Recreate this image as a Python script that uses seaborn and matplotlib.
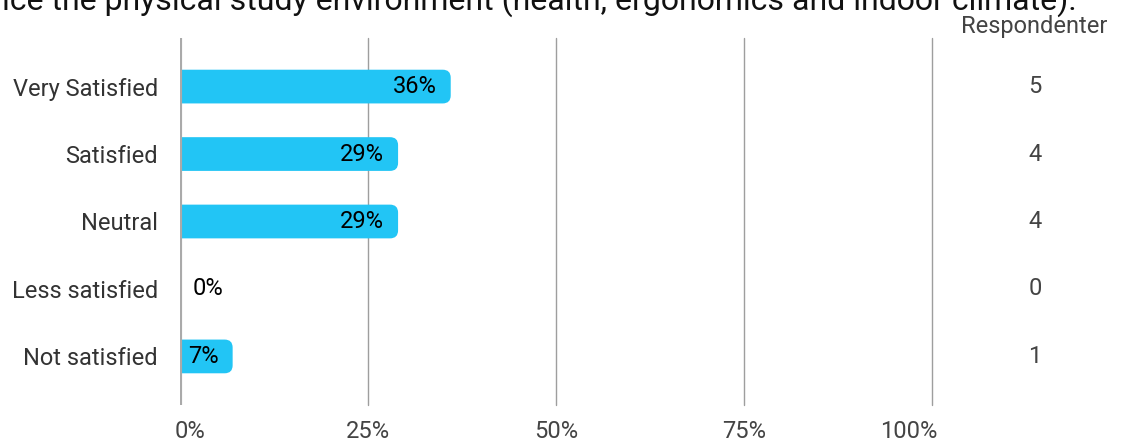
import numpy as np
import pandas as pd
import matplotlib
matplotlib.use("Agg")
import matplotlib.pyplot as plt
import matplotlib.transforms as mtrans
from matplotlib.patches import FancyBboxPatch
import seaborn as sns

categories = ["Very Satisfied", "Satisfied", "Neutral", "Less satisfied", "Not satisfied"]
percent = [36, 29, 29, 0, 7]
respondents = [5, 4, 4, 0, 1]
xticks = [0, 25, 50, 75, 100]
xticklabels = ["0%", "25%", "50%", "75%", "100%"]
title = "ice the physical study environment (health, ergonomics and indoor climate)."

df = pd.DataFrame({"category": categories, "percent": percent, "n": respondents})

sns.set_style("white")
plt.rcParams["font.family"] = ["Roboto", "DejaVu Sans"]

bar_color = "#22c5f5"
fig = plt.figure(figsize=(11.26, 4.42), dpi=100)
ax = fig.add_axes([180 / 1126, 1 - 405 / 442, 752 / 1126, 367 / 442])

sns.barplot(data=df, y="category", x="percent", orient="h", color=bar_color,
            width=0.5, saturation=1, ax=ax)

ax.set_xlim(0, 100)
ax.set_ylim(4.72, -0.72)

# rounded bar ends: rebuild each seaborn bar as a rounded box
px_x = 752 / 100.0
px_y = 367 / 5.44
r_px = 8
for p in list(ax.patches):
    x0, y0, w, h = p.get_x(), p.get_y(), p.get_width(), p.get_height()
    p.set_visible(False)
    if w <= 0:
        continue
    ext = r_px / px_x + 0.5
    box = FancyBboxPatch((x0 - ext, y0), w + ext, h,
                         boxstyle=f"round,pad=0,rounding_size={r_px / px_x}",
                         mutation_aspect=px_x / px_y,
                         facecolor=bar_color, edgecolor="none", zorder=2)
    ax.add_patch(box)

# value labels
for i, (v, n) in enumerate(zip(percent, respondents)):
    lab = f"{v}%"
    if v * px_x > 45:
        ax.annotate(lab, (v, i), xytext=(-14, 0), textcoords="offset pixels",
                    ha="right", va="center", fontsize=17, color="#000000", zorder=3)
    else:
        ax.annotate(lab, (v, i), xytext=(13, 0), textcoords="offset pixels",
                    ha="left", va="center", fontsize=17, color="#000000", zorder=3)
    ax.text(1.137, i, str(n), transform=ax.get_yaxis_transform(),
            ha="center", va="center", fontsize=17, color="#444444")

ax.text(1.038, 1 + 5 / 367, "Respondenter", transform=ax.transAxes,
        ha="left", va="baseline", fontsize=17, color="#444444")

# grid
for x in xticks[1:]:
    ax.axvline(x, color="#9e9e9e", lw=1.0, zorder=0, clip_on=False)
ax.axvline(0, color="#aaaaaa", lw=3, zorder=4)

ax.set_xticks(xticks)
ax.set_xticklabels(xticklabels)
ax.tick_params(axis="x", length=0, pad=11, labelsize=17, labelcolor="#444444")
ax.tick_params(axis="y", length=0, pad=16, labelsize=17, labelcolor="#333333")
ax.set_xlabel("")
ax.set_ylabel("")
for s in ax.spines.values():
    s.set_visible(False)

tls = ax.get_xticklabels()
tls[0].set_ha("left")
tls[0].set_transform(tls[0].get_transform() + mtrans.ScaledTranslation(-5 / 100, 0, fig.dpi_scale_trans))
tls[-1].set_ha("right")
tls[-1].set_transform(tls[-1].get_transform() + mtrans.ScaledTranslation(5 / 100, 0, fig.dpi_scale_trans))

fig.text(2 / 1126, 1 - 10 / 442, title, ha="left", va="baseline", fontsize=23, color="#111111")

fig.savefig("out.png", dpi=100)
